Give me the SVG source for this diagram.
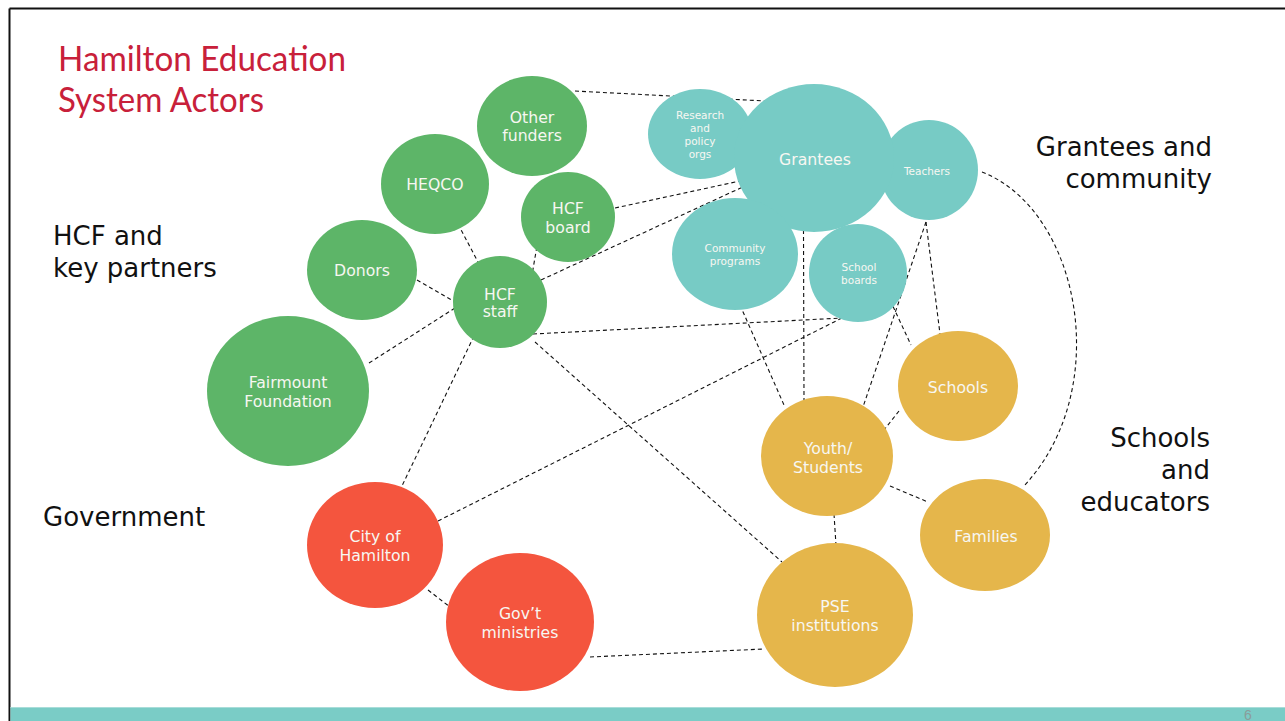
<svg xmlns="http://www.w3.org/2000/svg" width="1285" height="721" viewBox="0 0 1285 721">
<style>
.lbl{font-family:"DejaVu Sans",Verdana,sans-serif;fill:#F7F7F2;text-anchor:middle;font-size:15.7px}
.sm{font-size:10.5px}
.sec{font-family:"DejaVu Sans",Verdana,sans-serif;fill:#111;font-size:26px}
.title{font-family:Lato,"Open Sans",sans-serif;fill:#C8203A;font-size:34px}
.g{fill:#5DB568}.t{fill:#77CBC5}.r{fill:#F4553E}.y{fill:#E5B64B}
#connectors line,#connectors path{stroke:#111;stroke-width:1.1;stroke-dasharray:4 3;fill:none}
</style>
<rect width="1285" height="721" fill="#fff"/>
<line x1="9.5" y1="8.5" x2="1285" y2="8.5" stroke="#111" stroke-width="2"/>
<line x1="9.5" y1="8.5" x2="9.5" y2="721" stroke="#111" stroke-width="2"/>
<rect x="10.5" y="707" width="1275" height="14" fill="#7ACCC6"/>
<line x1="10.5" y1="707.5" x2="1285" y2="707.5" stroke="#A9DDD9" stroke-width="1"/>
<text x="1244" y="720" font-family="'Liberation Sans',Arial,sans-serif" font-size="14" fill="#8A9C9A">6</text>

<text class="title" x="58" y="71" textLength="288" lengthAdjust="spacingAndGlyphs">Hamilton Education</text>
<text class="title" x="58" y="112" textLength="206" lengthAdjust="spacingAndGlyphs">System Actors</text>

<text class="sec" x="53" y="245">HCF and</text>
<text class="sec" x="53" y="277">key partners</text>
<text class="sec" x="43" y="526">Government</text>
<text class="sec" x="1212" y="156" text-anchor="end">Grantees and</text>
<text class="sec" x="1212" y="188" text-anchor="end">community</text>
<text class="sec" x="1210" y="447" text-anchor="end">Schools</text>
<text class="sec" x="1210" y="479" text-anchor="end">and</text>
<text class="sec" x="1210" y="511" text-anchor="end">educators</text>

<g id="connectors">
<line x1="575" y1="91" x2="765" y2="101"/>
<line x1="615" y1="208" x2="740" y2="181"/>
<line x1="541" y1="280" x2="745" y2="186"/>
<line x1="538" y1="240" x2="532" y2="275"/>
<line x1="458" y1="224" x2="478" y2="262"/>
<line x1="417" y1="280" x2="455" y2="302"/>
<line x1="369" y1="363" x2="455" y2="308"/>
<line x1="474" y1="336" x2="400" y2="490"/>
<line x1="533" y1="334" x2="842" y2="318"/>
<line x1="535" y1="342" x2="782" y2="562"/>
<line x1="438" y1="521" x2="842" y2="318"/>
<line x1="590" y1="657" x2="764" y2="649"/>
<line x1="428" y1="590" x2="450" y2="607"/>
<line x1="740" y1="305" x2="784" y2="405"/>
<line x1="803.5" y1="230" x2="804" y2="400"/>
<line x1="926" y1="222" x2="863" y2="407"/>
<line x1="926" y1="222" x2="940" y2="334"/>
<line x1="890" y1="300" x2="911" y2="345"/>
<line x1="899" y1="411" x2="884" y2="430"/>
<line x1="890" y1="486" x2="928" y2="502"/>
<line x1="834" y1="514" x2="836" y2="545"/>
<path d="M982,172 C1080,210 1115,390 1023,487"/>
</g>

<g id="node-other-funders"><ellipse class="g" cx="532" cy="126" rx="55" ry="50"/><text class="lbl" x="532" y="123">Other</text><text class="lbl" x="532" y="141">funders</text></g>
<g id="node-heqco"><ellipse class="g" cx="435" cy="184" rx="54" ry="50"/><text class="lbl" x="435" y="190">HEQCO</text></g>
<g id="node-hcf-board"><ellipse class="g" cx="568" cy="217" rx="47" ry="45"/><text class="lbl" x="568" y="214">HCF</text><text class="lbl" x="568" y="233">board</text></g>
<g id="node-donors"><ellipse class="g" cx="362" cy="270" rx="55" ry="50"/><text class="lbl" x="362" y="276">Donors</text></g>
<g id="node-hcf-staff"><ellipse class="g" cx="500" cy="302" rx="47" ry="46"/><text class="lbl" x="500" y="300">HCF</text><text class="lbl" x="500" y="317">staff</text></g>
<g id="node-fairmount"><ellipse class="g" cx="288" cy="391" rx="81" ry="75"/><text class="lbl" x="288" y="388">Fairmount</text><text class="lbl" x="288" y="407">Foundation</text></g>
<g id="node-city"><ellipse class="r" cx="375" cy="545" rx="68" ry="63"/><text class="lbl" x="375" y="542">City of</text><text class="lbl" x="375" y="561">Hamilton</text></g>
<g id="node-govt"><ellipse class="r" cx="520" cy="622" rx="74" ry="69"/><text class="lbl" x="520" y="619">Gov’t</text><text class="lbl" x="520" y="638">ministries</text></g>

<g id="node-research"><ellipse class="t" cx="700" cy="134" rx="52" ry="45"/><text class="lbl sm" x="700" y="119">Research</text><text class="lbl sm" x="700" y="132">and</text><text class="lbl sm" x="700" y="145">policy</text><text class="lbl sm" x="700" y="158">orgs</text></g>
<g id="node-teachers"><ellipse class="t" cx="929" cy="170" rx="49" ry="50"/><text class="lbl sm" x="927" y="175">Teachers</text></g>
<g id="node-grantees"><ellipse class="t" cx="814" cy="158" rx="80" ry="74"/><text class="lbl" x="815" y="165" font-size="16">Grantees</text></g>
<g id="node-community"><ellipse class="t" cx="735" cy="254" rx="63" ry="56"/><text class="lbl sm" x="735" y="252">Community</text><text class="lbl sm" x="735" y="265">programs</text></g>
<g id="node-school-boards"><ellipse class="t" cx="858" cy="273" rx="49" ry="49"/><text class="lbl sm" x="859" y="271">School</text><text class="lbl sm" x="859" y="284">boards</text></g>

<g id="node-schools"><ellipse class="y" cx="958" cy="386" rx="60" ry="55"/><text class="lbl" x="958" y="393">Schools</text></g>
<g id="node-youth"><ellipse class="y" cx="827" cy="456" rx="66" ry="60"/><text class="lbl" x="828" y="454">Youth/</text><text class="lbl" x="828" y="473">Students</text></g>
<g id="node-families"><ellipse class="y" cx="985" cy="535" rx="65" ry="56"/><text class="lbl" x="986" y="542">Families</text></g>
<g id="node-pse"><ellipse class="y" cx="835" cy="615" rx="78" ry="72"/><text class="lbl" x="835" y="612">PSE</text><text class="lbl" x="835" y="631">institutions</text></g>
</svg>
